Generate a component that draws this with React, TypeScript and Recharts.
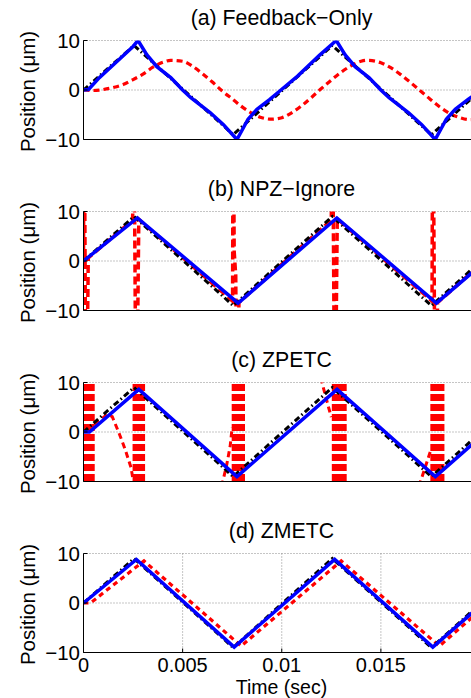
import React from 'react';
import { LineChart, Line, XAxis, YAxis, CartesianGrid } from 'recharts';

const FONT = '"Liberation Sans", Arial, Helvetica, sans-serif';

// axes (time in ms, labels shown in seconds)
const xTicks = [0, 5, 10, 15];
const yTicks = [-10, 0, 10];
const titles = ['(a) Feedback\u2212Only', '(b) NPZ\u2212Ignore', '(c) ZPETC', '(d) ZMETC'];

// desired trajectory (black dash-dot), same in every panel
const refT = [0, 2.55, 7.55, 12.55, 17.55, 20];
const refV = [0, 9, -9, 9, -9, -0.2];

// (a) Feedback-Only
const aBlueT = [0, 0.25, 0.8, 1.7, 2.5, 2.75, 3.2, 3.7, 4.4, 5.0, 5.4, 6.4, 7.06, 7.74, 8.3, 8.75, 9.4, 9.9, 10.8, 11.9, 12.75, 13.2, 13.7, 14.4, 15.0, 15.4, 16.4, 17.06, 17.74, 18.3, 18.75, 19.4, 20];
const aBlueV = [0, 0.1, 2.5, 5.8, 8.8, 10, 7.1, 4.7, 2.5, 0, -1.5, -4.6, -7.0, -10, -5.9, -3.9, -1.9, -0.2, 2.8, 7.0, 10, 7.1, 4.7, 2.5, 0, -1.5, -4.6, -7.0, -10, -5.9, -3.9, -1.9, -0.2];
const aRedT = [0, 0.5, 1.0, 1.5, 2.0, 2.5, 3.0, 3.5, 4.0, 4.4, 5.0, 5.5, 6.0, 6.5, 7.0, 7.5, 8.0, 8.5, 9.0, 9.5, 10.0, 10.5, 11.0, 11.5, 12.0, 12.5, 13.0, 13.5, 14.0, 14.3, 15.0, 15.5, 16.0, 16.5, 17.0, 17.5, 18.0, 18.5, 19.0, 19.5, 20.0];
const aRedV = [0, -0.1, 0.1, 0.5, 1.1, 2.1, 3.2, 4.6, 5.6, 6.0, 5.8, 4.8, 3.3, 1.6, -0.2, -1.8, -3.4, -4.7, -5.6, -5.9, -5.6, -4.6, -3.2, -1.5, 0.3, 2.0, 3.6, 4.9, 5.8, 6.0, 5.5, 4.5, 3.1, 1.5, -0.2, -1.9, -3.5, -4.8, -5.6, -6.0, -5.8];

// (b) NPZ-Ignore
const bBlueT = [0, 2.72, 7.8, 12.78, 17.8, 20];
const bBlueV = [0, 8.7, -8.5, 8.7, -8.5, -1.0];
const bRedT = [0, 0.03, 0.13, 0.24, 2.48, 2.53, 2.66, 2.79, 7.52, 7.55, 7.6, 7.68, 7.74, 7.84, 12.5, 12.55, 12.68, 12.8, 17.58, 17.62, 17.75, 17.86, 20];
const bRedV = [0, 40, -40, 0.6, 8.3, 40, -40, 8.4, -8.1, 40, 2, -3, -40, -8.4, 8.3, 40, -40, 8.5, -8.1, 40, -40, -8.4, -0.8];

// (c) ZPETC
const cBlueT = [0, 0.3, 2.79, 7.74, 12.79, 17.75, 20];
const cBlueV = [0, 0, 8.6, -9.0, 8.6, -9.0, -1.1];
const cRedT = [0.55, 0.9, 1.2, 1.45, 1.8, 2.1, 2.4, 2.55, 2.56, 6.97, 7.23, 7.4, 7.5, 7.51, 11.98, 12.03, 12.36, 12.5, 12.51, 16.97, 17.0, 17.5];
const cRedV = [1.5, 2.6, 3.6, 3.1, -0.3, -3.5, -7.2, -11, null, -11, -6.5, -2.8, 1, null, 11, 10, 5.0, 3, null, -11, -10, -3.9];
// positions of the fast oscillation strokes (off-scale swings)
const cBandT = [
  0.05, 0.09, 0.13, 0.17, 0.21, 0.25, 0.29, 0.33, 0.37, 0.41, 0.45, 0.49,
  2.55, 2.59, 2.63, 2.67, 2.71, 2.75, 2.79, 2.83, 2.87, 2.91, 2.95, 2.99, 3.03,
  7.55, 7.59, 7.63, 7.67, 7.71, 7.75, 7.79, 7.83, 7.87, 7.91, 7.95, 7.99, 8.03, 8.07,
  12.6, 12.64, 12.68, 12.72, 12.76, 12.8, 12.84, 12.88, 12.92, 12.96, 13.0, 13.04, 13.08, 13.12, 13.16, 13.2,
  17.57, 17.61, 17.65, 17.69, 17.73, 17.77, 17.81, 17.85, 17.89, 17.93, 17.97, 18.01, 18.05, 18.09, 18.13,
];
const bandHigh = 40;
const bandLow = -40;

// (d) ZMETC
const dBlueT = [0, 2.67, 7.6, 12.67, 17.62, 20];
const dBlueV = [0, 8.8, -8.9, 8.8, -8.9, -0.6];
const dRedT = [0, 0.35, 3.05, 7.95, 13.0, 17.95, 20];
const dRedV = [0, 0, 8.5, -8.7, 8.5, -8.7, -1.5];

const zip = (t: number[], v: (number | null)[]) => t.map((x, i) => ({ t: x, v: v[i] }));
const strokes = (ts: number[]) => {
  const out: { t: number; v: number | null }[] = [];
  ts.forEach((x) => {
    out.push({ t: x, v: bandHigh });
    out.push({ t: x + 0.001, v: bandLow });
    out.push({ t: x + 0.002, v: null });
  });
  return out;
};

type S = { data: { t: number; v: number | null }[]; color: string; dash?: string; width: number; type?: string };

const REF: S = { data: zip(refT, refV), color: '#000000', dash: '6 3 1.5 3', width: 3 };
const RED_DASH = '6 4';
const BLUE_W = 3.5;

const panels: { top: number; series: S[] }[] = [
  {
    top: 40.5,
    series: [
      { data: zip(aRedT, aRedV), color: '#ff0000', dash: RED_DASH, width: 3.2, type: 'monotone' },
      REF,
      { data: zip(aBlueT, aBlueV), color: '#0000ff', width: BLUE_W },
    ],
  },
  {
    top: 211.5,
    series: [
      { data: zip(bRedT, bRedV), color: '#ff0000', dash: '8 4', width: 3.5 },
      REF,
      { data: zip(bBlueT, bBlueV), color: '#0000ff', width: BLUE_W },
    ],
  },
  {
    top: 382.5,
    series: [
      { data: strokes(cBandT), color: '#ff0000', dash: '7 3', width: 3 },
      { data: zip(cRedT, cRedV), color: '#ff0000', dash: RED_DASH, width: 3 },
      REF,
      { data: zip(cBlueT, cBlueV), color: '#0000ff', width: BLUE_W },
    ],
  },
  {
    top: 553.5,
    series: [
      { data: zip(dRedT, dRedV), color: '#ff0000', dash: '5 4', width: 3.2 },
      REF,
      { data: zip(dBlueT, dBlueV), color: '#0000ff', width: BLUE_W },
    ],
  },
];

const PLOT_H = 99;
const fmtY = (v: number) => (v < 0 ? '\u2212' + Math.abs(v) : String(v));
const fmtX = (v: number) => String(v / 1000);

function Panel({ top, series, showX }: { top: number; series: S[]; showX: boolean }) {
  const chartTop = Math.floor(top - 20);
  const mTop = top - chartTop;
  return (
    <div style={{ position: 'absolute', left: 0, top: chartTop }}>
      <LineChart width={490} height={150} margin={{ top: mTop, right: 10, bottom: 150 - mTop - PLOT_H - 30, left: 0 }}>
        <CartesianGrid stroke="#8a8a8a" strokeDasharray="1 2" />
        <XAxis
          xAxisId={0}
          type="number"
          dataKey="t"
          domain={[0, 20]}
          ticks={xTicks}
          interval={0}
          allowDataOverflow
          height={30}
          tickSize={-4}
          tickMargin={9.5}
          tickFormatter={fmtX}
          tick={showX ? { fill: '#000', fontSize: 20, fontFamily: FONT } : false}
          axisLine={{ stroke: '#000', strokeWidth: 1 }}
          tickLine={{ stroke: '#000', strokeWidth: 1 }}
        />
        <XAxis
          xAxisId="top"
          orientation="top"
          type="number"
          domain={[0, 20]}
          ticks={xTicks}
          interval={0}
          allowDataOverflow
          height={0}
          tickSize={-4}
          tick={false}
          axisLine={{ stroke: '#000', strokeWidth: 1 }}
          tickLine={{ stroke: '#000', strokeWidth: 1 }}
        />
        <YAxis
          type="number"
          domain={[-10, 10]}
          ticks={yTicks}
          interval={0}
          allowDataOverflow
          width={83.5}
          tickSize={-4}
          tickMargin={7.5}
          tickFormatter={fmtY}
          tick={{ fill: '#000', fontSize: 20.5, fontFamily: FONT }}
          axisLine={{ stroke: '#000', strokeWidth: 1 }}
          tickLine={{ stroke: '#000', strokeWidth: 1 }}
        />
        {series.map((s, i) => (
          <Line
            key={i}
            xAxisId={0}
            data={s.data}
            dataKey="v"
            type={(s.type as any) || 'linear'}
            stroke={s.color}
            strokeWidth={s.width}
            strokeDasharray={s.dash}
            dot={false}
            activeDot={false}
            isAnimationActive={false}
            connectNulls={false}
          />
        ))}
      </LineChart>
    </div>
  );
}

export default function App() {
  return (
    <div style={{ position: 'absolute', left: 0, top: 0, width: 471, height: 698, overflow: 'hidden', background: '#fff' }}>
      {panels.map((p, i) => (
        <Panel key={i} top={p.top} series={p.series} showX={i === panels.length - 1} />
      ))}
      <svg width={471} height={698} style={{ position: 'absolute', left: 0, top: 0, pointerEvents: 'none' }}>
        {panels.map((p, i) => (
          <g key={i} fontFamily={FONT} fill="#000">
            <text x={281.5} y={p.top - 15.3} textAnchor="middle" fontSize={21.3}>
              {titles[i]}
            </text>
            <text transform={`translate(35, ${p.top + PLOT_H / 2 + 1.5}) rotate(-90)`} textAnchor="middle" fontSize={20.5}>
              Position (μm)
            </text>
          </g>
        ))}
        <text x={281.5} y={693.6} textAnchor="middle" fontSize={19.5} fontFamily={FONT} fill="#000">
          Time (sec)
        </text>
      </svg>
    </div>
  );
}
